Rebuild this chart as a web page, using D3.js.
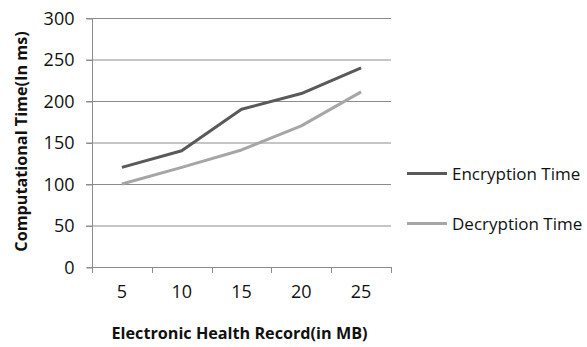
<!DOCTYPE html>
<html><head><meta charset="utf-8">
<script src="https://cdn.jsdelivr.net/npm/d3@7"></script>
<style>body{margin:0;background:#fff}svg{display:block}text{font-family:"Open Sans",sans-serif;fill:#111}</style>
</head><body><svg id="c" width="587" height="347"></svg>
<script>
const categories = ["5","10","15","20","25"];
const encryption = [120,140,190,209,240];
const decryption = [100,120,141,170,211];
const yTicks = [0,50,100,150,200,250,300];
const seriesNames = ["Encryption Time","Decryption Time"];
const seriesColors = ["#595959","#a6a6a6"];

(function(){
const svg = d3.select("#c");
const left = 92, right = 391, topY = 18, bottom = 267;
const x = d3.scaleBand().domain(categories).range([left,right]);
const y = d3.scaleLinear().domain([0,300]).range([bottom,topY]);

// gridlines
svg.append("g").selectAll("line").data(yTicks.filter(d=>d>0)).join("line")
  .attr("x1",left-6).attr("x2",right).attr("y1",d=>y(d)+0.5).attr("y2",d=>y(d)+0.5)
  .attr("stroke","#8c8c8c").attr("stroke-width",1);

// y axis
const ya = svg.append("g").attr("transform",`translate(${left+0.5},0)`)
  .call(d3.axisLeft(y).tickValues(yTicks).tickSize(6).tickPadding(12));
ya.select(".domain").attr("stroke","#8c8c8c").attr("d",`M-6,${bottom+0.5}H0V${topY}`);
ya.selectAll(".tick line").attr("stroke","#8c8c8c").attr("transform","translate(0,0.5)");
ya.selectAll(".tick text").attr("font-size","18px").attr("font-family","Open Sans").attr("fill","#111").attr("dy","0.36em");

// x axis
const xa = svg.append("g").attr("transform",`translate(0,${bottom+0.5})`)
  .call(d3.axisBottom(x).tickSize(0).tickPadding(18));
xa.select(".domain").attr("stroke","#8c8c8c").attr("d",`M${left},0H${right}`);
xa.selectAll(".tick text").attr("font-size","18px").attr("font-family","Open Sans").attr("fill","#111");
// boundary tick marks
const bounds = categories.map(c=>x(c)).concat([right]);
svg.append("g").selectAll("line").data(bounds).join("line")
  .attr("x1",d=>Math.round(d)+0.5).attr("x2",d=>Math.round(d)+0.5)
  .attr("y1",bottom).attr("y2",bottom+6).attr("stroke","#8c8c8c");

// lines
const line = d3.line().x((d,i)=>x(categories[i])+x.bandwidth()/2).y(d=>y(d));
[encryption,decryption].forEach((s,i)=>{
  svg.append("path").datum(s).attr("d",line).attr("fill","none")
    .attr("stroke",seriesColors[i]).attr("stroke-width",3).attr("stroke-linejoin","round");
});

// legend
const leg = svg.append("g");
seriesNames.forEach((n,i)=>{
  const ly = 173.5 + i*50;
  leg.append("line").attr("x1",407).attr("x2",447).attr("y1",ly).attr("y2",ly)
    .attr("stroke",seriesColors[i]).attr("stroke-width",3);
  leg.append("text").attr("x",452).attr("y",ly).attr("dy","0.36em")
    .attr("font-size","17px").text(n);
});

// axis titles
svg.append("text").attr("transform","translate(27,141.5) rotate(-90)")
  .attr("text-anchor","middle").attr("font-size","16.2px").attr("font-weight","bold").text("Computational Time(In ms)");
svg.append("text").attr("x",239.5).attr("y",339).attr("text-anchor","middle")
  .attr("font-size","16.2px").attr("font-weight","bold").text("Electronic Health Record(in MB)");
})();
</script></body></html>
